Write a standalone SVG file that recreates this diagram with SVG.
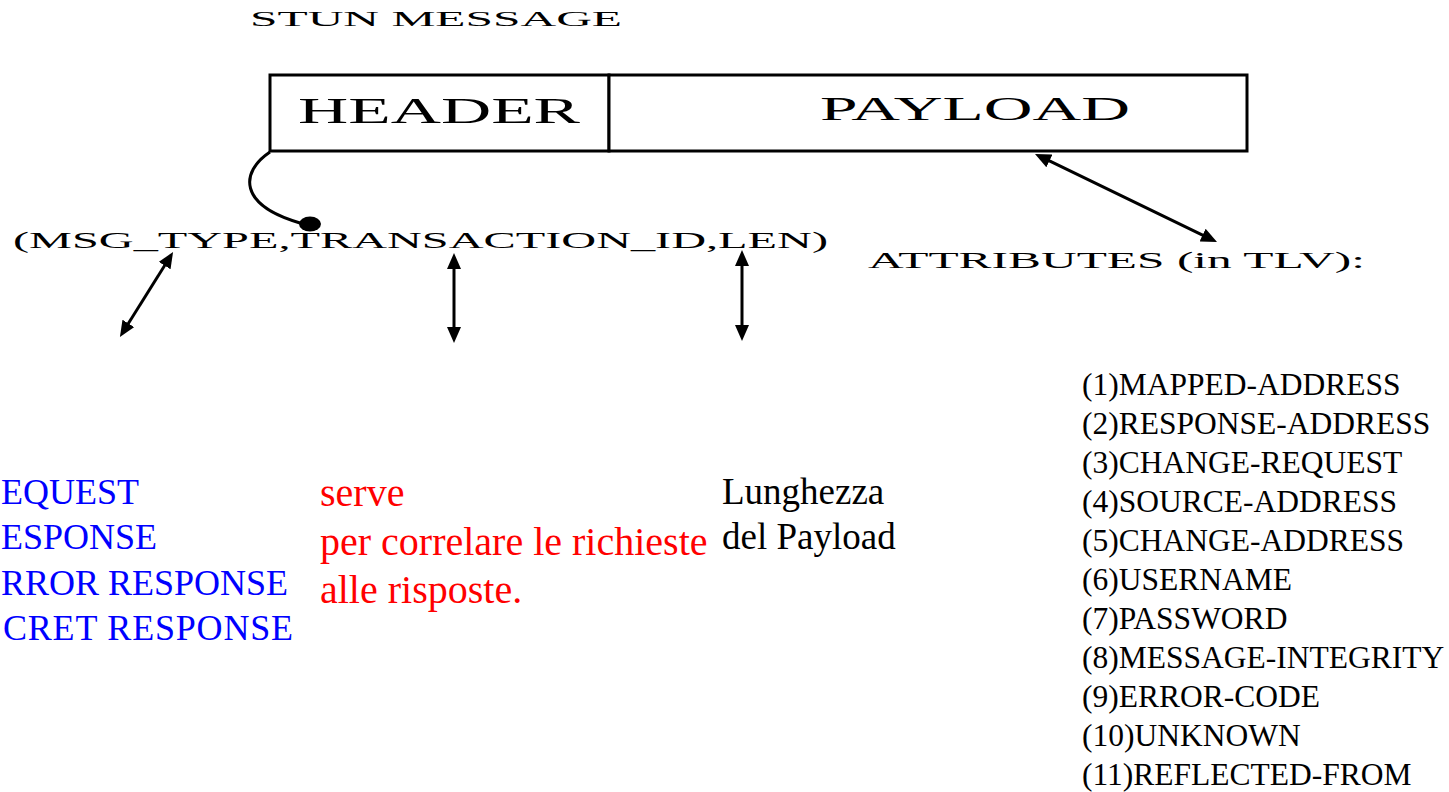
<svg xmlns="http://www.w3.org/2000/svg" width="1449" height="792" viewBox="0 0 1449 792">
  <style>
    .frame { fill: #ffffff; stroke: #000000; stroke-width: 3; }
    .wide { font-family: "Liberation Serif", "DejaVu Serif", serif; fill: #000000; }
    .body { font-family: "Liberation Serif", "Times New Roman", serif; }
    .blue { fill: #0000ff; font-size: 36px; }
    .red { fill: #ff0000; font-size: 40px; }
    .black { fill: #000000; font-size: 37px; }
    .attr { fill: #000000; font-size: 31.5px; }
    .link { fill: none; stroke: #000000; stroke-width: 3; }
  </style>
  <defs>
    <marker id="head" viewBox="0 0 16 14" refX="4" refY="7" markerWidth="16" markerHeight="14" markerUnits="userSpaceOnUse" orient="auto-start-reverse">
      <path d="M0,0 L16,7 L0,14 Z" fill="#000000"/>
    </marker>
  </defs>
  <rect width="1449" height="792" fill="#ffffff"/>

  <!-- title -->
  <g id="title">
    <text class="wide" x="250" y="26" font-size="20" textLength="372" lengthAdjust="spacingAndGlyphs">STUN MESSAGE</text>
  </g>

  <!-- message frame: header + payload -->
  <g id="header">
    <rect class="frame" x="270" y="75" width="339" height="76"/>
    <text class="wide" x="298" y="123" font-size="35" textLength="282" lengthAdjust="spacingAndGlyphs">HEADER</text>
  </g>
  <g id="payload">
    <rect class="frame" x="609" y="75" width="638" height="76"/>
    <text class="wide" x="820" y="120" font-size="33" textLength="310" lengthAdjust="spacingAndGlyphs">PAYLOAD</text>
  </g>

  <!-- header fields -->
  <g id="header-fields">
    <text class="wide" x="13" y="248" font-size="23" textLength="815" lengthAdjust="spacingAndGlyphs">(MSG_TYPE,TRANSACTION_ID,LEN)</text>
  </g>

  <!-- attributes label -->
  <g id="attributes">
    <text class="wide" x="868" y="268" font-size="23" textLength="497" lengthAdjust="spacingAndGlyphs">ATTRIBUTES (in TLV):</text>
  </g>

  <!-- message types -->
  <g id="msg-types" class="body blue">
    <text x="1" y="504">EQUEST</text>
    <text x="1" y="549">ESPONSE</text>
    <text x="1" y="595">RROR RESPONSE</text>
    <text x="3" y="640" textLength="290">CRET RESPONSE</text>
  </g>

  <!-- transaction id note -->
  <g id="transaction-note" class="body red">
    <text x="320" y="506">serve</text>
    <text x="320" y="555">per correlare le richieste</text>
    <text x="320" y="603">alle risposte.</text>
  </g>

  <!-- length note -->
  <g id="length-note" class="body black">
    <text x="722" y="504">Lunghezza</text>
    <text x="722" y="549">del Payload</text>
  </g>

  <!-- attribute list -->
  <g id="attribute-list" class="body attr">
    <text x="1082" y="395">(1)MAPPED-ADDRESS</text>
    <text x="1082" y="434">(2)RESPONSE-ADDRESS</text>
    <text x="1082" y="473">(3)CHANGE-REQUEST</text>
    <text x="1082" y="512">(4)SOURCE-ADDRESS</text>
    <text x="1082" y="551">(5)CHANGE-ADDRESS</text>
    <text x="1082" y="590">(6)USERNAME</text>
    <text x="1082" y="629">(7)PASSWORD</text>
    <text x="1082" y="668">(8)MESSAGE-INTEGRITY</text>
    <text x="1082" y="707">(9)ERROR-CODE</text>
    <text x="1082" y="746">(10)UNKNOWN</text>
    <text x="1082" y="785">(11)REFLECTED-FROM</text>
  </g>

  <!-- connectors -->
  <g id="connectors">
    <path class="link" d="M270,152 C240,172 238,205 300,223"/>
    <ellipse cx="310" cy="224" rx="11" ry="7.5" fill="#000000"/>
    <line class="link" x1="126.3" y1="326.8" x2="166.7" y2="262.2" marker-start="url(#head)" marker-end="url(#head)"/>
    <line class="link" x1="454" y1="331" x2="454" y2="265" marker-start="url(#head)" marker-end="url(#head)"/>
    <line class="link" x1="742" y1="329" x2="742" y2="262" marker-start="url(#head)" marker-end="url(#head)"/>
    <line class="link" x1="1045.8" y1="159.2" x2="1206.2" y2="236.8" marker-start="url(#head)" marker-end="url(#head)"/>
  </g>
</svg>
